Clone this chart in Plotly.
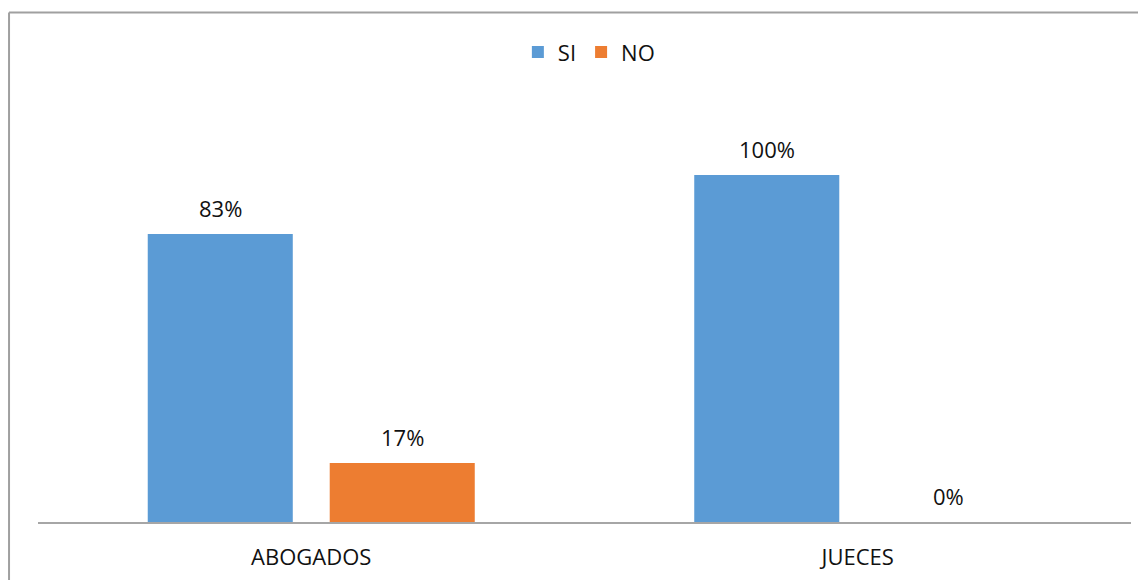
import plotly.graph_objects as go

# chart data
categories = ["ABOGADOS", "JUECES"]
si_values = [83, 100]
no_values = [17, 0]
series_names = ["SI", "NO"]
series_colors = ["#5B9BD5", "#ED7D31"]

bargap = 0.334
bargroupgap = 0.203
font_family = "Open Sans, Noto Sans, sans-serif"

fig = go.Figure()
for name, vals, color in zip(series_names, [si_values, no_values], series_colors):
    fig.add_trace(go.Bar(name=name, x=categories, y=vals, marker=dict(color=color, line=dict(width=0))))

# value labels above each bar (bar centres follow from the group gaps)
slot = (1 - bargap) / 2
annotations = []
for k, vals in enumerate([si_values, no_values]):
    offset = -slot / 2 + k * slot
    for i, v in enumerate(vals):
        annotations.append(dict(
            x=i + offset, y=v, xref="x", yref="y", text=f"{v}%",
            showarrow=False, yshift=26, yanchor="middle",
            font=dict(size=22, color="#111111", family=font_family),
        ))

# page body adds an 8px margin, margins below account for it
fig.update_layout(
    width=1146,
    height=580,
    margin=dict(l=30, r=23, t=72, b=66),
    paper_bgcolor="white",
    plot_bgcolor="white",
    barmode="group",
    bargap=bargap,
    bargroupgap=bargroupgap,
    font=dict(family=font_family, size=22, color="#111111"),
    showlegend=True,
    legend=dict(orientation="h", x=0.504, xanchor="center", y=1.063, yanchor="middle",
                font=dict(size=22), itemwidth=30, traceorder="normal"),
    annotations=annotations,
    shapes=[
        dict(type="line", xref="paper", yref="paper", x0=-0.0265, x1=-0.0265, y0=-0.2, y1=1.1527,
             line=dict(color="#A0A0A0", width=2)),
        dict(type="line", xref="paper", yref="paper", x0=-0.0265, x1=1.05, y0=1.1527, y1=1.1527,
             line=dict(color="#A0A0A0", width=2)),
    ],
)
fig.update_xaxes(range=[-0.5, 1.5], showline=True, linecolor="#A6A6A6", linewidth=2,
                 ticks="", ticklabelstandoff=15, showgrid=False, zeroline=False,
                 tickfont=dict(size=22))
fig.update_yaxes(range=[0, 127.4], visible=False, showgrid=False, zeroline=False)

fig.write_html("out.html")
